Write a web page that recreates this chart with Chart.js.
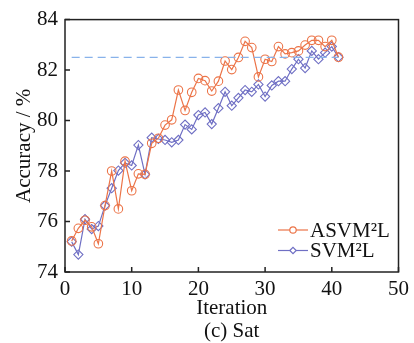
<!DOCTYPE html>
<html>
<head>
<meta charset="utf-8">
<script src="https://cdn.jsdelivr.net/npm/chart.js@4.4.0/dist/chart.umd.min.js"></script>
<style>
  html, body { margin: 0; padding: 0; background: #fff; }
  #wrap { width: 414px; height: 343px; }
</style>
</head>
<body>
<div id="wrap"><canvas id="accChart" width="414" height="343"></canvas></div>
<script>
// iterations
const iterations = [1, 2, 3, 4, 5, 6, 7, 8, 9, 10, 11, 12, 13, 14, 15, 16, 17, 18, 19, 20,
    21, 22, 23, 24, 25, 26, 27, 28, 29, 30, 31, 32, 33, 34, 35, 36, 37, 38, 39, 40, 41];

// ASVM²L accuracy (%)
const asvmAcc = [75.23, 75.73, 76.05, 75.79, 75.12, 76.63, 78.0, 76.5, 78.39, 77.22,
    77.89, 77.87, 79.1, 79.3, 79.82, 80.03, 81.21, 80.4, 81.12, 81.67,
    81.58, 81.17, 81.56, 82.36, 82.02, 82.5, 83.14, 82.89, 81.73, 82.43,
    82.34, 82.93, 82.64, 82.69, 82.76, 82.99, 83.18, 83.18, 82.93, 83.18, 82.51];

// SVM²L accuracy (%)
const svmAcc = [75.2, 74.69, 76.09, 75.7, 75.82, 76.63, 77.32, 78.02, 78.32, 78.22,
    79.03, 77.87, 79.32, 79.27, 79.23, 79.14, 79.23, 79.84, 79.65, 80.22,
    80.32, 79.86, 80.49, 81.14, 80.59, 80.9, 81.21, 81.14, 81.43, 80.95,
    81.39, 81.56, 81.56, 82.04, 82.43, 82.08, 82.76, 82.43, 82.69, 82.93, 82.51];

// reference dashed level
const refLevel = 82.5;
const refRange = [1, 41];

const xTicks = [0, 10, 20, 30, 40, 50];
const yTicks = [74, 76, 78, 80, 82, 84];

const orange = '#EC7448';
const blue = '#6F6FC4';
const serif = "'Liberation Serif', 'Times New Roman', serif";

const toPoints = (xs, ys) => xs.map((x, i) => ({ x: x, y: ys[i] }));

// рамка, внутренние засечки и легенда
const framePlugin = {
    id: 'frame',
    afterDraw(chart) {
        const { ctx, chartArea: a, scales: { x, y } } = chart;
        ctx.save();
        ctx.strokeStyle = '#222';
        ctx.lineWidth = 1.5;
        ctx.strokeRect(a.left, a.top, a.right - a.left, a.bottom - a.top);
        ctx.beginPath();
        xTicks.forEach(v => {
            const px = x.getPixelForValue(v);
            ctx.moveTo(px, a.bottom);
            ctx.lineTo(px, a.bottom - 5);
        });
        yTicks.forEach(v => {
            const py = y.getPixelForValue(v);
            ctx.moveTo(a.left, py);
            ctx.lineTo(a.left + 5, py);
        });
        ctx.stroke();

        // legend
        const items = [
            { label: 'ASVM²L', color: orange, style: 'circle' },
            { label: 'SVM²L', color: blue, style: 'rectRot' }
        ];
        ctx.font = '21px ' + serif;
        ctx.textBaseline = 'middle';
        items.forEach((it, i) => {
            const ly = 230 + i * 20.5;
            ctx.strokeStyle = it.color;
            ctx.lineWidth = 1.2;
            ctx.beginPath();
            ctx.moveTo(278, ly);
            ctx.lineTo(308, ly);
            ctx.stroke();
            ctx.fillStyle = '#fff';
            Chart.helpers.drawPoint(ctx, { pointStyle: it.style, radius: 3.2, borderWidth: 1.1 }, 293, ly);
            ctx.fillStyle = '#111';
            ctx.fillText(it.label, 310, ly + 1);
        });
        ctx.restore();
    }
};

new Chart(document.getElementById('accChart').getContext('2d'), {
    type: 'line',
    data: {
        datasets: [{
            label: 'ref',
            data: refRange.map(v => ({ x: v, y: refLevel })),
            borderColor: '#88B2EA',
            borderWidth: 1.2,
            borderDash: [8, 5],
            pointRadius: 0
        }, {
            label: 'ASVM²L',
            data: toPoints(iterations, asvmAcc),
            borderColor: orange,
            backgroundColor: 'rgba(255,255,255,0)',
            borderWidth: 1.2,
            pointStyle: 'circle',
            pointRadius: 4.3,
            pointBorderWidth: 1.1,
            tension: 0
        }, {
            label: 'SVM²L',
            data: toPoints(iterations, svmAcc),
            borderColor: blue,
            backgroundColor: 'rgba(255,255,255,0)',
            borderWidth: 1.2,
            pointStyle: 'rectRot',
            pointRadius: 4.6,
            pointBorderWidth: 1.1,
            tension: 0
        }]
    },
    options: {
        responsive: false,
        animation: false,
        layout: { padding: { left: 0, right: 14, top: 15, bottom: 0 } },
        plugins: {
            legend: { display: false },
            tooltip: { enabled: false }
        },
        scales: {
            x: {
                type: 'linear',
                min: 0,
                max: 50,
                afterFit: s => { s.height = 71; },
                afterBuildTicks: s => { s.ticks = xTicks.map(v => ({ value: v })); },
                grid: { drawOnChartArea: false, drawTicks: false },
                border: { display: false },
                ticks: { color: '#111', padding: 5, font: { family: serif, size: 21 } },
                title: {
                    display: true,
                    text: ['Iteration', '(c) Sat'],
                    color: '#111',
                    padding: { top: 0, bottom: 0 },
                    font: { family: serif, size: 21, lineHeight: 1.1 }
                }
            },
            y: {
                min: 74,
                max: 84,
                afterFit: s => { s.width = 65; },
                afterBuildTicks: s => { s.ticks = yTicks.map(v => ({ value: v })); },
                grid: { drawOnChartArea: false, drawTicks: false },
                border: { display: false },
                ticks: { color: '#111', padding: 7, font: { family: serif, size: 21 } },
                title: {
                    display: true,
                    text: 'Accuracy / %',
                    color: '#111',
                    padding: { top: 13, bottom: 0 },
                    font: { family: serif, size: 21, lineHeight: 1.05 }
                }
            }
        }
    },
    plugins: [framePlugin]
});
</script>
</body>
</html>
